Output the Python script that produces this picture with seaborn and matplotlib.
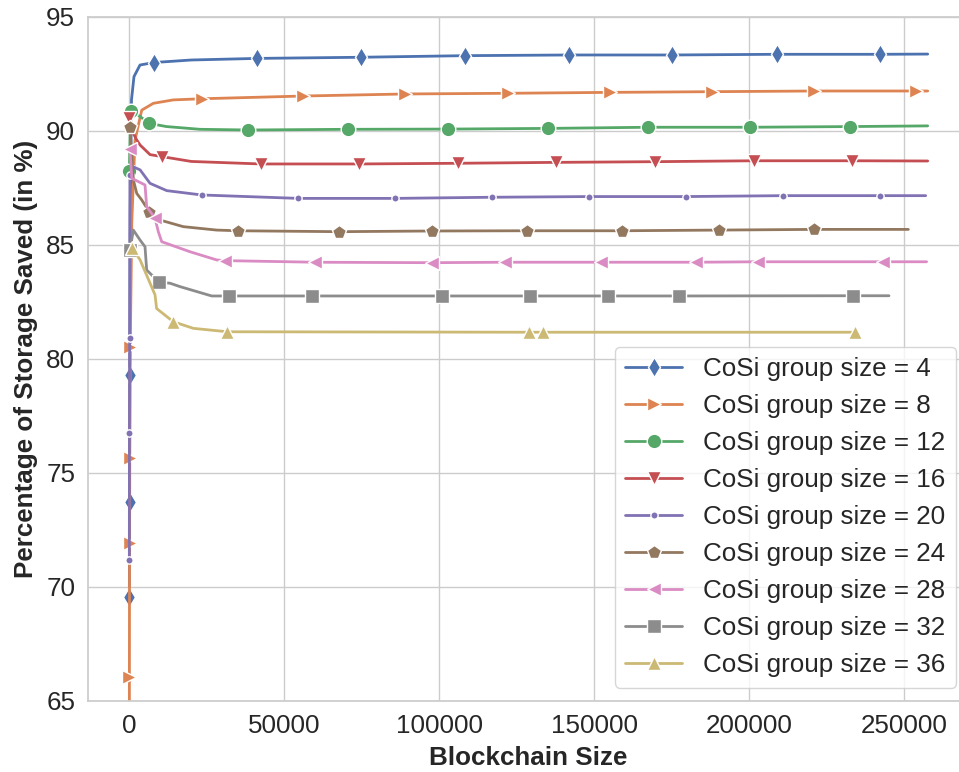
import matplotlib
matplotlib.use("Agg")
import matplotlib.pyplot as plt
import seaborn as sns

sns.set_theme(style="whitegrid", palette="deep")
plt.rcParams["font.family"] = ["Liberation Sans", "DejaVu Sans"]

# CoSi group sizes and their marker shapes
group_sizes = [4, 8, 12, 16, 20, 24, 28, 32, 36]
marker_shapes = ["d", ">", "o", "v", ".", "p", "<", "s", "^"]

# Storage saved (%) versus blockchain size, one curve per group size.
# *_marks lists the points that carry a marker.
size4_x = [10, 60, 150, 300, 700, 1500, 3450, 7970, 20000, 41290, 74740, 108260,
           141840, 175160, 208830, 242160, 257550]
size4_y = [69.56, 73.70, 79.28, 86.5, 91.35, 92.37, 92.88, 92.99, 93.10, 93.17, 93.22,
           93.29, 93.32, 93.32, 93.35, 93.35, 93.36]
size4_marks = [0, 1, 2, 7, 9, 10, 11, 12, 13, 14, 15]

size8_x = [5, 20, 70, 150, 300, 800, 1840, 4000, 7740, 14190, 23350, 56130, 88940,
           122260, 155060, 187870, 220870, 253770, 257550]
size8_y = [62.0, 66.05, 71.90, 75.63, 80.53, 86.0, 89.59, 90.90, 91.20, 91.35, 91.40,
           91.52, 91.61, 91.64, 91.68, 91.71, 91.74, 91.74, 91.74]
size8_marks = [1, 2, 3, 4, 10, 11, 12, 13, 14, 15, 16, 17]

size12_x = [10, 400, 3480, 6350, 12000, 22800, 38190, 70650, 102900, 135160, 167420,
            200230, 232480, 257550]
size12_y = [88.25, 90.85, 90.62, 90.32, 90.18, 90.06, 90.03, 90.06, 90.07, 90.10, 90.15,
            90.15, 90.18, 90.21]
size12_marks = [0, 1, 3, 6, 7, 8, 9, 10, 11, 12]

size16_x = [0, 1200, 2400, 3480, 6680, 10650, 20000, 42390, 74100, 105940, 137650,
            169580, 201520, 233230, 257550]
size16_y = [90.54, 89.90, 89.59, 89.37, 88.95, 88.86, 88.65, 88.54, 88.54, 88.57, 88.61,
            88.64, 88.68, 88.68, 88.67]
size16_marks = [0, 5, 7, 8, 9, 10, 11, 12, 13]

size20_x = [5, 40, 100, 200, 1500, 3480, 6680, 12070, 23350, 54520, 85710, 116900,
            148290, 179480, 210970, 242160, 256900]
size20_y = [71.17, 76.75, 80.90, 88.06, 88.40, 88.28, 87.69, 87.37, 87.18, 87.03, 87.03,
            87.08, 87.11, 87.11, 87.15, 87.15, 87.15]
size20_marks = [0, 1, 2, 3, 8, 9, 10, 11, 12, 13, 14, 15]

size24_x = [200, 1300, 2390, 4000, 6500, 9900, 17400, 28200, 34970, 67740, 97550,
            128190, 158830, 190230, 220870, 251300]
size24_y = [90.18, 87.84, 87.25, 86.96, 86.43, 86.08, 85.79, 85.64, 85.61, 85.57, 85.60,
            85.61, 85.61, 85.64, 85.67, 85.67]
size24_marks = [0, 4, 8, 9, 10, 11, 12, 13, 14]

size28_x = [200, 800, 5060, 5600, 8290, 9350, 10450, 19580, 28190, 30870, 59900, 97550,
            121190, 152160, 182810, 202900, 243230, 257200]
size28_y = [89.18, 87.91, 87.62, 86.67, 86.16, 85.57, 85.13, 84.69, 84.33, 84.30, 84.23,
            84.21, 84.23, 84.23, 84.23, 84.25, 84.25, 84.25]
size28_marks = [0, 4, 9, 10, 11, 12, 13, 14, 15, 16]

size32_x = [200, 1300, 3480, 5060, 5600, 9580, 13100, 16350, 26580, 32260, 59030,
            100770, 129260, 154520, 177320, 233550, 245060]
size32_y = [84.77, 85.64, 85.20, 84.91, 83.89, 83.35, 83.31, 83.16, 82.75, 82.75, 82.75,
            82.75, 82.75, 82.75, 82.75, 82.76, 82.76]
size32_marks = [0, 5, 9, 10, 11, 12, 13, 14, 15]

size36_x = [1000, 3480, 8290, 8800, 14190, 20650, 31610, 129030, 133550, 234100]
size36_y = [84.84, 84.33, 82.80, 82.20, 81.62, 81.33, 81.18, 81.16, 81.16, 81.16]
size36_marks = [0, 4, 6, 7, 8, 9]

curves = [
    (size4_x, size4_y, size4_marks),
    (size8_x, size8_y, size8_marks),
    (size12_x, size12_y, size12_marks),
    (size16_x, size16_y, size16_marks),
    (size20_x, size20_y, size20_marks),
    (size24_x, size24_y, size24_marks),
    (size28_x, size28_y, size28_marks),
    (size32_x, size32_y, size32_marks),
    (size36_x, size36_y, size36_marks),
]

colors = sns.color_palette("deep", len(group_sizes))

fig = plt.figure(figsize=(9.59, 7.72), dpi=100)
ax = fig.add_axes([0.0921, 0.0924, 0.918, 0.886])

for (xs, ys, marks), size, shape, color in zip(curves, group_sizes, marker_shapes, colors):
    sns.lineplot(
        x=xs, y=ys, ax=ax, estimator=None, sort=False,
        color=color, linewidth=2, marker=shape, markersize=10.5,
        markevery=marks, markeredgecolor="white", markeredgewidth=1,
        label=f"CoSi group size = {size}",
    )

ax.set_xlim(-13226, 270774)
ax.set_ylim(65, 95)
ax.set_xticks([0, 50000, 100000, 150000, 200000, 250000])
ax.set_yticks([65, 70, 75, 80, 85, 90, 95])
ax.tick_params(labelsize=18.7)
ax.set_xlabel("Blockchain Size", fontsize=18.7, fontweight="bold", labelpad=6)
ax.set_ylabel("Percentage of Storage Saved (in %)", fontsize=18.7, fontweight="bold",
              labelpad=6)

ax.legend(loc="lower right", fontsize=18.7, handlelength=2.2, frameon=True)

fig.savefig("out.png", dpi=100)
